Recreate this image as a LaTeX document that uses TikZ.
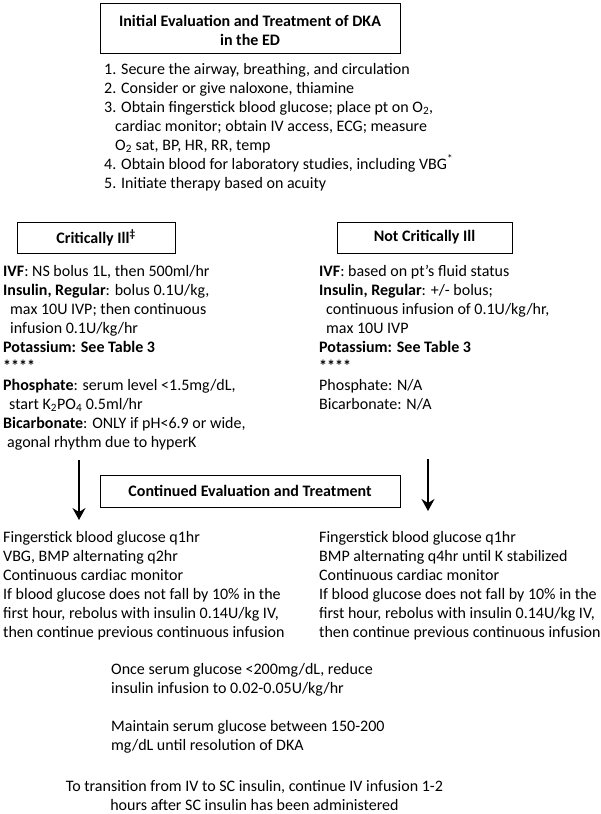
\documentclass[tikz,border=0pt]{standalone}
\usepackage{fontspec}
\setmainfont{Carlito}
\usetikzlibrary{arrows.meta}
\begin{document}
\begin{tikzpicture}[x=1pt,y=-1pt,
  txt/.style={anchor=north west, inner sep=0pt, align=left, font=\fontsize{16}{19}\selectfont},
  ctxt/.style={anchor=north, inner sep=0pt, align=center, font=\fontsize{16}{19}\selectfont},
  hdr/.style={draw, line width=1pt, inner sep=0pt, align=center, font=\fontsize{16}{19}\selectfont\bfseries},
  hdrtext/.style={inner sep=0pt, align=center, font=\fontsize{16}{19}\selectfont\bfseries},
  arr/.style={line width=1.6pt, -{Stealth[length=12pt,width=13pt,inset=4pt]}}]
\useasboundingbox (0,0) rectangle (600,814);

% headers
\node[hdr, minimum width=300pt, minimum height=50pt] (init) at (250,28) {};
\node[hdrtext, yshift=-2.5pt] (initt) at (init.center)
  {Initial Evaluation and Treatment of DKA\\in the ED};
\node[hdr, minimum width=158pt, minimum height=31pt] (crit) at (96,237.5)
  {Critically Ill\textsuperscript{‡}};
\node[hdr, minimum width=175pt, minimum height=31pt] (notcrit) at (424.5,237.5)
  {Not Critically Ill};
\node[hdr, minimum width=300pt, minimum height=32pt] (cont) at (250,491)
  {Continued Evaluation and Treatment};

% initial list
\node[txt] (list) at (104,60.7) {\strut 1. Secure the airway, breathing, and circulation\\
2. Consider or give naloxone, thiamine\\
3. Obtain fingerstick blood glucose; place pt on O\textsubscript{2},\\
\hspace*{11pt}cardiac monitor; obtain IV access, ECG; measure\\
\hspace*{11pt}O\textsubscript{2} sat, BP, HR, RR, temp\\
4. Obtain blood for laboratory studies, including VBG\textsuperscript{*}\\
5. Initiate therapy based on acuity};

% critically ill column
\node[txt] (critx) at (3,262.7) {\strut\textbf{IVF}: NS bolus 1L, then 500ml/hr\\
\textbf{Insulin, Regular}: bolus 0.1U/kg,\\
\hspace*{7pt}max 10U IVP; then continuous\\
\hspace*{7pt}infusion 0.1U/kg/hr\\
\textbf{Potassium: See Table 3}\\
\textbf{****}\\
\textbf{Phosphate}: serum level <1.5mg/dL,\\
\hspace*{6pt}start K\textsubscript{2}PO\textsubscript{4} 0.5ml/hr\\
\textbf{Bicarbonate}: ONLY if pH<6.9 or wide,\\
\hspace*{4pt}agonal rhythm due to hyperK};

% not critically ill column
\node[txt] (notcritx) at (319,262.7) {\strut\textbf{IVF}: based on pt’s fluid status\\
\textbf{Insulin, Regular}: +/- bolus;\\
\hspace*{7pt}continuous infusion of 0.1U/kg/hr,\\
\hspace*{7pt}max 10U IVP\\
\textbf{Potassium: See Table 3}\\
\textbf{****}\\
Phosphate: N/A\\
Bicarbonate: N/A};

% continued evaluation
\node[txt] (contl) at (3,528.7) {\strut Fingerstick blood glucose q1hr\\
VBG, BMP alternating q2hr\\
Continuous cardiac monitor\\
If blood glucose does not fall by 10\% in the\\
first hour, rebolus with insulin 0.14U/kg IV,\\
then continue previous continuous infusion};

\node[txt] (contr) at (319,528.7) {\strut Fingerstick blood glucose q1hr\\
BMP alternating q4hr until K stabilized\\
Continuous cardiac monitor\\
If blood glucose does not fall by 10\% in the\\
first hour, rebolus with insulin 0.14U/kg IV,\\
then continue previous continuous infusion};

\node[txt] (once) at (111,660.7) {\strut Once serum glucose <200mg/dL, reduce\\
insulin infusion to 0.02-0.05U/kg/hr\\
\strut\\
Maintain serum glucose between 150-200\\
mg/dL until resolution of DKA};

\node[ctxt] (trans) at (254.5,777.7) {\strut To transition from IV to SC insulin, continue IV infusion 1-2\\
hours after SC insulin has been administered};

% arrows
\coordinate (la1) at (79,460);
\coordinate (la2) at (79,520);
\coordinate (ra1) at (428,459);
\coordinate (ra2) at (428,511);
\draw[arr] (la1) -- (la2);
\draw[arr] (ra1) -- (ra2);
\end{tikzpicture}
\end{document}
